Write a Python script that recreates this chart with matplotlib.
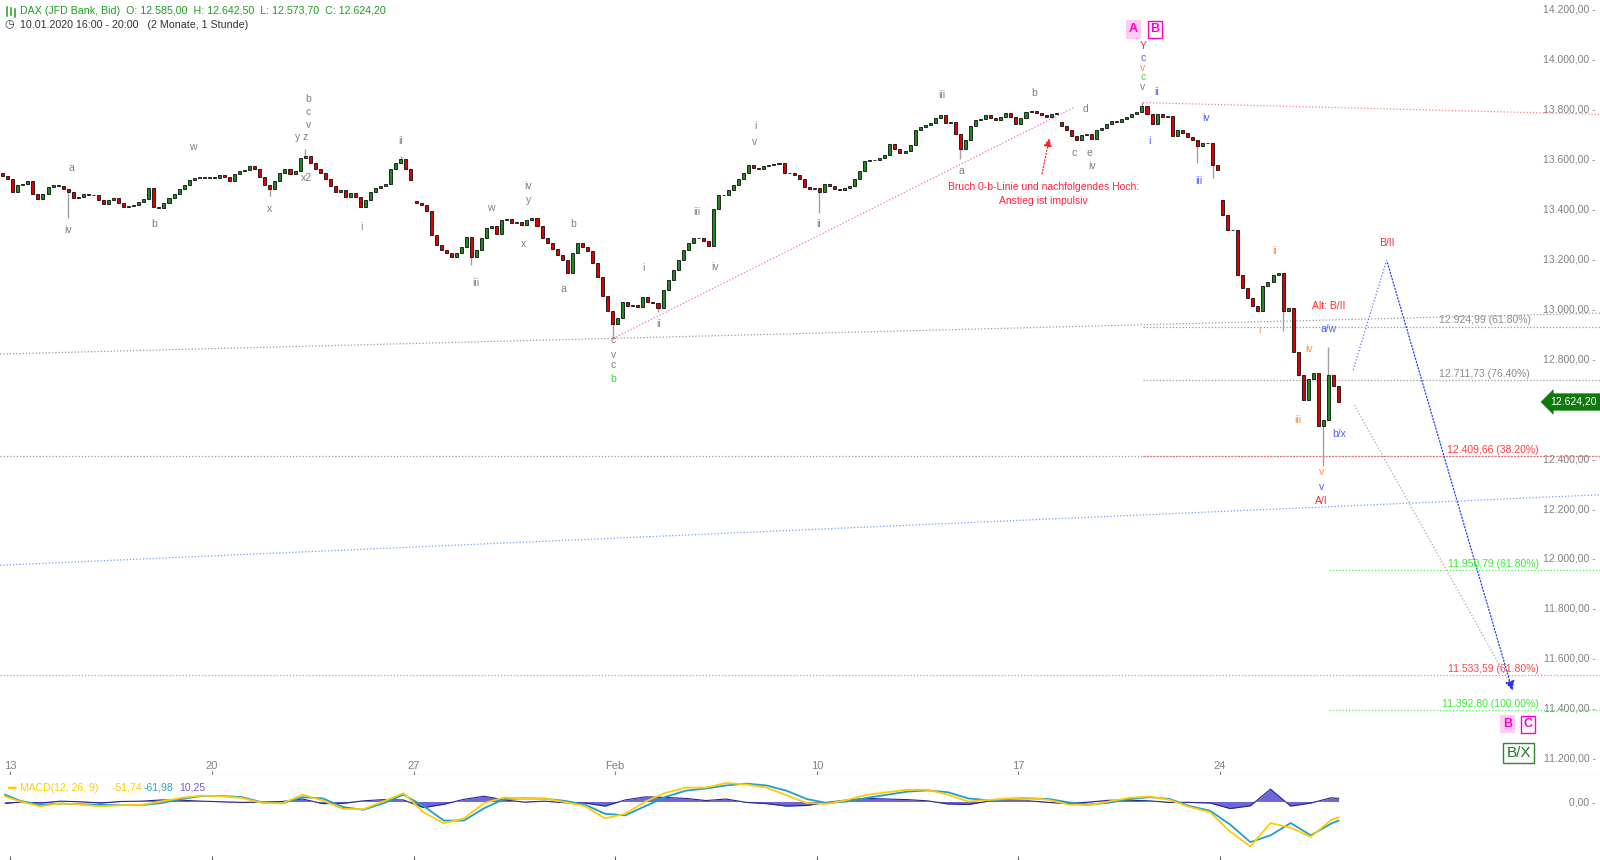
import numpy as np
import matplotlib
matplotlib.use("Agg")
import matplotlib.pyplot as plt
import matplotlib.transforms as mtransforms
from matplotlib.lines import Line2D
from matplotlib.ticker import FuncFormatter

plt.rcParams['font.family'] = ['Liberation Sans', 'DejaVu Sans']

# hourly-ish DAX CFD closes, 8 bars per trading day
days = ["2020-01-10",
        "2020-01-13", "2020-01-14", "2020-01-15", "2020-01-16", "2020-01-17",
        "2020-01-20", "2020-01-21", "2020-01-22", "2020-01-23", "2020-01-24",
        "2020-01-27", "2020-01-28", "2020-01-29", "2020-01-30", "2020-01-31",
        "2020-02-03", "2020-02-04", "2020-02-05", "2020-02-06", "2020-02-07",
        "2020-02-10", "2020-02-11", "2020-02-12", "2020-02-13", "2020-02-14",
        "2020-02-17", "2020-02-18", "2020-02-19", "2020-02-20", "2020-02-21",
        "2020-02-24", "2020-02-25", "2020-02-26"]
closes = [
    [13530, 13515],
    [13466, 13494, 13498, 13507, 13458, 13437, 13458, 13486],
    [13494, 13490, 13478, 13466, 13441, 13445, 13458, 13454],
    [13454, 13433, 13417, 13433, 13441, 13421, 13405, 13409],
    [13413, 13425, 13437, 13482, 13405, 13401, 13421, 13441],
    [13458, 13478, 13494, 13511, 13519, 13523, 13519, 13523],
    [13519, 13531, 13523, 13507, 13535, 13547, 13551, 13568],
    [13556, 13523, 13494, 13478, 13507, 13539, 13556, 13535],
    [13547, 13600, 13609, 13580, 13556, 13539, 13515, 13490],
    [13466, 13474, 13445, 13462, 13445, 13405, 13433, 13466],
    [13482, 13490, 13498, 13556, 13580, 13596, 13556, 13511],
    [13421, 13413, 13388, 13294, 13253, 13233, 13221, 13205],
    [13221, 13245, 13286, 13205, 13233, 13282, 13319, 13327],
    [13298, 13352, 13356, 13339, 13343, 13331, 13352, 13360],
    [13327, 13282, 13262, 13237, 13213, 13192, 13139, 13221],
    [13262, 13245, 13229, 13180, 13123, 13049, 12988, 12935],
    [12960, 13025, 13009, 13013, 13005, 13045, 13025, 13021],
    [13000, 13074, 13111, 13152, 13192, 13233, 13262, 13282],
    [13282, 13270, 13249, 13396, 13454, 13454, 13474, 13494],
    [13515, 13539, 13572, 13560, 13556, 13568, 13572, 13576],
    [13580, 13539, 13539, 13531, 13515, 13486, 13478, 13482],
    [13466, 13498, 13490, 13478, 13474, 13482, 13490, 13515],
    [13547, 13588, 13592, 13592, 13600, 13613, 13658, 13637],
    [13621, 13629, 13654, 13711, 13723, 13731, 13739, 13760],
    [13772, 13739, 13743, 13698, 13637, 13674, 13727, 13751],
    [13755, 13772, 13760, 13751, 13764, 13780, 13764, 13735],
    [13760, 13784, 13788, 13780, 13772, 13764, 13776, 13780],
    [13727, 13711, 13690, 13674, 13694, 13698, 13678, 13711],
    [13719, 13735, 13747, 13743, 13755, 13764, 13776, 13784],
    [13808, 13776, 13735, 13776, 13764, 13768, 13690, 13711],
    [13702, 13686, 13674, 13649, 13662, 13662, 13572, 13551],
    [13372, 13311, 13311, 13131, 13082, 13041, 13009, 12988],
    [13090, 13106, 13131, 13139, 12988, 13000, 12825, 12731],
    [12633, 12715, 12739, 12527, 12552, 12731, 12690, 12624.2],
]
# opens after a gap (otherwise open = previous close)
gap_open = {"2020-01-10": 13540, "2020-01-27": 13429, "2020-02-18": 13743, "2020-02-24": 13433}
wick_high = {("2020-01-22", 2): 13637, ("2020-01-24", 5): 13609, ("2020-02-20", 0): 13825,
             ("2020-02-26", 5): 12845}
wick_low = {("2020-01-14", 3): 13360, ("2020-01-21", 3): 13450, ("2020-01-28", 3): 13172,
            ("2020-01-31", 7): 12878, ("2020-02-04", 0): 12984, ("2020-02-10", 0): 13380,
            ("2020-02-13", 4): 13596, ("2020-02-21", 3): 13580, ("2020-02-21", 6): 13519,
            ("2020-02-25", 4): 12910, ("2020-02-26", 4): 12368}

# MACD(12,26,9) read every half day
macd = [16,
        0, -16, -6, -10, -16, -12, -11, 0, 12, 19,
        17, 11, -5, -6, 22, 3, -24, -25, 0, 27,
        -35, -71, -55, -5, 13, 8, 10, -2, -15, -55,
        -40, 0, 28, 45, 45, 60, 55, 45, 20, -5,
        -8, 5, 22, 30, 38, 38, 22, 0, 5, 10,
        12, 5, -10, -12, 0, 12, 16, 5, -18, -35,
        -98, -146, -70, -85, -115, -60,
        -51.74]
signal = [22,
          2, -11, -7, -9, -11, -12, -12, -5, 8, 18,
          18, 14, -3, -6, 14, 10, -18, -27, -6, 22,
          -15, -62, -62, -22, 8, 10, 9, 2, -10, -40,
          -45, -15, 15, 35, 42, 52, 58, 52, 35, 8,
          -5, 0, 12, 22, 32, 36, 30, 10, 4, 8,
          10, 8, -3, -10, -4, 8, 14, 8, -15, -30,
          -75, -132, -110, -70, -110, -72,
          -61.98]
hist_last = 10.25

week_ticks = ["2020-01-13", "2020-01-20", "2020-01-27", "2020-02-03", "2020-02-10", "2020-02-17", "2020-02-24"]
week_labels = ["13", "20", "27", "Feb", "10", "17", "24"]
price_ticks = [11200, 11400, 11600, 11800, 12000, 12200, 12400, 12800, 13000,
               13200, 13400, 13600, 13800, 14000, 14200]   # 12.600 hidden under price tag


def de(v, nd=2):
    s = f"{v:,.{nd}f}"
    return s.replace(",", "X").replace(".", ",").replace("X", ".")


GRAY = '#808080'
BLUE = '#4a5cff'
ORANGE = '#ff8c40'
RED = '#ff2a2a'
GREEN = '#33dd33'
MAG = '#ff00cc'

fig = plt.figure(figsize=(16, 8.6), dpi=100)
ax = fig.add_axes([0, 0.0985, 1, 0.9015])
ax2 = fig.add_axes([0, 0, 1, 0.0985])

# build candles
day_idx = np.busday_count("2020-01-13", days)
xs, o_, h_, l_, c_ = [], [], [], [], []
prev = None
for di, day in enumerate(days):
    cl = closes[di]
    start = 8 - len(cl)
    for k, c in enumerate(cl):
        o = gap_open[day] if (k == 0 and day in gap_open) else prev
        hi = max(o, c, wick_high.get((day, k), 0))
        lo = min(o, c, wick_low.get((day, k), 1e9))
        xs.append(day_idx[di] + (start + k + 0.5) / 8)
        o_.append(o); h_.append(hi); l_.append(lo); c_.append(c)
        prev = c
xs, o_, h_, l_, c_ = map(np.array, (xs, o_, h_, l_, c_))
up = c_ >= o_
ax.vlines(xs, l_, h_, color='#a0a0a0', lw=1, zorder=3)
ax.bar(xs, np.abs(c_ - o_), bottom=np.minimum(o_, c_), width=0.075,
       color=np.where(up, '#1f8a1f', '#e00000'), edgecolor='black', linewidth=0.55, zorder=4)

# trend / fib lines
xl = (-0.253, 39.42)
dot = (0, (1, 1.6))
ax.plot(xl, [12816, 12980], ls=dot, color='#9a9a9a', lw=0.9)
ax.plot([14.95, 26.39], [12878, 13804], ls=dot, color='#ff66dd', lw=0.9)
ax.plot([28.09, 39.42], [13822, 13775], ls=dot, color='#ff8080', lw=0.9)
ax.plot(xl, [11971, 12253], ls=dot, color='#66a3ff', lw=0.9)
ax.plot([28.09, 39.42], [12924.99] * 2, ls=dot, color='#9a9a9a', lw=0.9)
ax.plot([28.09, 39.42], [12711.73] * 2, ls=dot, color='#9a9a9a', lw=0.9)
ax.plot(xl, [12409.66] * 2, ls=dot, color='#9a9a9a', lw=0.9)
ax.plot([28.09, 39.42], [12409.66] * 2, ls=dot, color='#ff6060', lw=0.9)
ax.plot([32.69, 39.42], [11950.79] * 2, ls=dot, color='#55ee55', lw=0.9)
ax.plot(xl, [11533.59] * 2, ls=dot, color='#ff8080', lw=0.9)
ax.plot([32.69, 39.42], [11392.80] * 2, ls=dot, color='#55ee55', lw=0.9)

ax.annotate('', xy=(25.78, 13690), xytext=(25.57, 13526),
            arrowprops=dict(arrowstyle='-|>', color='#ff2020', ls=':', lw=0.9, mutation_scale=12))
ax.plot([33.30, 34.13], [12753, 13192], ls=dot, color='#5c6cff', lw=0.9)
ax.annotate('', xy=(37.27, 11459), xytext=(34.13, 13192),
            arrowprops=dict(arrowstyle='-|>', color='#2233ff', ls=':', lw=0.9, mutation_scale=14))
ax.plot([33.33, 37.27], [12612, 11473], ls=dot, color='#a8a8a8', lw=0.9)

# wave labels (text, day, price, colour)
labels = [
    ("a", 1.52, 13559, GRAY), ("iv", 1.44, 13314, GRAY), ("b", 3.57, 13335, GRAY),
    ("w", 4.53, 13645, GRAY), ("x", 6.43, 13396, GRAY),
    ("b", 7.39, 13837, GRAY), ("c", 7.39, 13785, GRAY), ("v", 7.39, 13732, GRAY),
    ("y z", 7.23, 13686, GRAY), ("x2", 7.35, 13520, GRAY),
    ("ii", 9.69, 13669, GRAY), ("i", 8.70, 13326, GRAY),
    ("w", 11.92, 13400, GRAY), ("iv", 12.85, 13490, GRAY), ("y", 12.85, 13433, GRAY),
    ("x", 12.73, 13257, GRAY), ("iii", 11.54, 13102, GRAY),
    ("b", 13.97, 13335, GRAY), ("a", 13.71, 13078, GRAY),
    ("c", 14.95, 12873, GRAY), ("v", 14.95, 12812, GRAY), ("c", 14.95, 12771, GRAY),
    ("b", 14.95, 12718, GREEN),
    ("i", 15.69, 13159, GRAY), ("ii", 16.09, 12935, GRAY), ("iii", 17.03, 13384, GRAY),
    ("iv", 17.48, 13163, GRAY), ("i", 18.47, 13727, GRAY), ("v", 18.47, 13665, GRAY),
    ("ii", 20.04, 13335, GRAY), ("iii", 23.10, 13853, GRAY), ("a", 23.58, 13547, GRAY),
    ("b", 25.38, 13861, GRAY), ("d", 26.67, 13796, GRAY), ("c", 26.39, 13620, GRAY),
    ("e", 26.77, 13620, GRAY), ("iv", 26.82, 13567, GRAY),
    ("Y", 28.09, 14049, RED), ("c", 28.09, 14000, BLUE), ("v", 28.09, 13959, ORANGE),
    ("c", 28.09, 13926, GREEN), ("v", 28.09, 13883, GRAY),
    ("ii", 28.42, 13865, BLUE), ("i", 28.24, 13669, BLUE), ("iv", 29.66, 13759, BLUE),
    ("iii", 29.48, 13510, BLUE),
    ("ii", 31.35, 13229, ORANGE), ("i", 30.97, 12914, ORANGE), ("iii", 31.93, 12551, ORANGE),
    ("iv", 32.21, 12837, ORANGE),
    ("Alt: B/II", 32.69, 13008, RED), ("a/w", 32.69, 12918, BLUE), ("b/x", 32.95, 12498, BLUE),
    ("v", 32.52, 12343, ORANGE), ("v", 32.52, 12286, BLUE), ("A/I", 32.52, 12229, RED),
    ("B/II", 34.13, 13261, RED),
]
for t, d, p, col in labels:
    ax.text(d, p, t, color=col, fontsize=7.5, ha='center', va='center', zorder=6)

fib_labels = [
    (12924.99, "61.80%", 36.56, 12951, '#8c8c8c'),
    (12711.73, "76.40%", 36.56, 12735, '#8c8c8c'),
    (12409.66, "38.20%", 36.77, 12433, '#ff3b3b'),
    (11950.79, "61.80%", 36.77, 11976, '#33ee33'),
    (11533.59, "61.80%", 36.77, 11555, '#ff4545'),
    (11392.80, "100.00%", 36.69, 11416, '#33ee33'),
]
for v, pct, d, p, col in fib_labels:
    ax.text(d, p, f"{de(v)} ({pct})", color=col, fontsize=7.5, ha='center', va='center')

ax.text(25.63, 13486, "Bruch 0-b-Linie und nachfolgendes Hoch:", color='#ff2040', fontsize=7.5,
        ha='center', va='center')
ax.text(25.63, 13429, "Anstieg ist impulsiv", color='#ff2040', fontsize=7.5, ha='center', va='center')

box_kw = dict(fontsize=9, fontweight='bold', ha='center', va='center', zorder=7)
ax.text(27.85, 14115, "A", color=MAG, bbox=dict(boxstyle='square,pad=0.25', fc='#ffcdf3', ec='none'), **box_kw)
ax.text(28.39, 14115, "B", color=MAG, bbox=dict(boxstyle='square,pad=0.2', fc='white', ec=MAG, lw=1), **box_kw)
ax.text(37.12, 11335, "B", color=MAG, bbox=dict(boxstyle='square,pad=0.25', fc='#ffcdf3', ec='none'), **box_kw)
ax.text(37.63, 11335, "C", color=MAG, bbox=dict(boxstyle='square,pad=0.2', fc='white', ec=MAG, lw=1), **box_kw)
ax.text(37.40, 11220, "B/X", color='#1a7a1a', fontsize=11, ha='center', va='center',
        bbox=dict(boxstyle='square,pad=0.2', fc='white', ec='#2a8a2a', lw=1))

# current price tag
trans = mtransforms.blended_transform_factory(ax.transAxes, ax.transData)
ax.text(0.998, 12624.2, de(12624.2), transform=trans, ha='right', va='center', fontsize=7.5,
        color='white', zorder=8, bbox=dict(boxstyle='larrow,pad=0.35', fc='#0e7a0e', ec='none'))

# axes styling
ax.set_xlim(*xl)
ax.set_ylim(11130.6, 14232.6)
for s in ['top', 'left', 'right']:
    ax.spines[s].set_visible(False)
ax.spines['bottom'].set_color('#a0a0a0')
ax.set_xticks(np.busday_count("2020-01-13", week_ticks), week_labels)
ax.tick_params(axis='x', direction='in', length=3, pad=-10, labelsize=8, colors='#808080')
ax.yaxis.tick_right()
ax.set_yticks(price_ticks)
ax.yaxis.set_major_formatter(FuncFormatter(lambda v, pos: de(v) + " -"))
ax.tick_params(axis='y', length=0, pad=-3, labelsize=7.5, labelcolor='#808080')
plt.setp(ax.get_yticklabels(), ha='right')

# MACD panel
mx = [-0.125] + [d + f for d in day_idx[1:] for f in (0.25, 0.75)] + [xs[-1]]
mx = np.array(mx)
m = np.array(macd)
s = np.array(signal)
hist = m - s
ax2.fill_between(mx, hist, 0, color='#6f66d8', lw=0)
ax2.plot(mx, hist, color='#25259a', lw=0.8)
ax2.plot(mx, s, color='#1e9fcc', lw=1.3)
ax2.plot(mx, m, color='#ffcc00', lw=1.3)
ax2.set_xlim(*xl)
ax2.set_ylim(-190, 85)
for sp in ax2.spines.values():
    sp.set_visible(False)
ax2.set_xticks(np.busday_count("2020-01-13", week_ticks), [''] * len(week_ticks))
ax2.tick_params(axis='x', direction='in', length=3, colors='#606060')
ax2.yaxis.tick_right()
ax2.set_yticks([0])
ax2.yaxis.set_major_formatter(FuncFormatter(lambda v, pos: de(v) + " -"))
ax2.tick_params(axis='y', length=0, pad=-3, labelsize=7.5, labelcolor='#808080')
plt.setp(ax2.get_yticklabels(), ha='right')

ax2.text(0.005, 0.85, "▬", transform=ax2.transAxes, color='#ffcc00', fontsize=6, va='center')
ax2.text(0.0125, 0.85, "MACD(12, 26, 9)", transform=ax2.transAxes, color='#ffcc00', fontsize=7.5, va='center')
ax2.text(0.0705, 0.85, de(macd[-1]), transform=ax2.transAxes, color='#ffcc00', fontsize=7.5, va='center')
ax2.text(0.0897, 0.85, de(signal[-1]), transform=ax2.transAxes, color='#2aa3cc', fontsize=7.5, va='center')
ax2.text(0.1117, 0.85, de(hist_last), transform=ax2.transAxes, color='#6a5acd', fontsize=7.5, va='center')

# header: small candle icon + texts
for xi, y0, y1 in [(0.0045, 0.981, 0.992), (0.0068, 0.983, 0.991), (0.0091, 0.980, 0.989)]:
    fig.add_artist(Line2D([xi, xi], [y0, y1], color='#1e9e1e', lw=1.1, transform=fig.transFigure))
fig.text(0.0128, 0.987, "DAX (JFD Bank, Bid)  O: 12.585,00  H: 12.642,50  L: 12.573,70  C: 12.624,20",
         color='#1e9e1e', fontsize=7.7, va='center')
fig.text(0.003, 0.9715, "◷", color='#333333', fontsize=8, va='center', family=['DejaVu Sans'])
fig.text(0.0128, 0.9715, "10.01.2020 16:00 - 20:00   (2 Monate, 1 Stunde)", color='#333333',
         fontsize=7.7, va='center')

fig.savefig("out.png", dpi=100)
